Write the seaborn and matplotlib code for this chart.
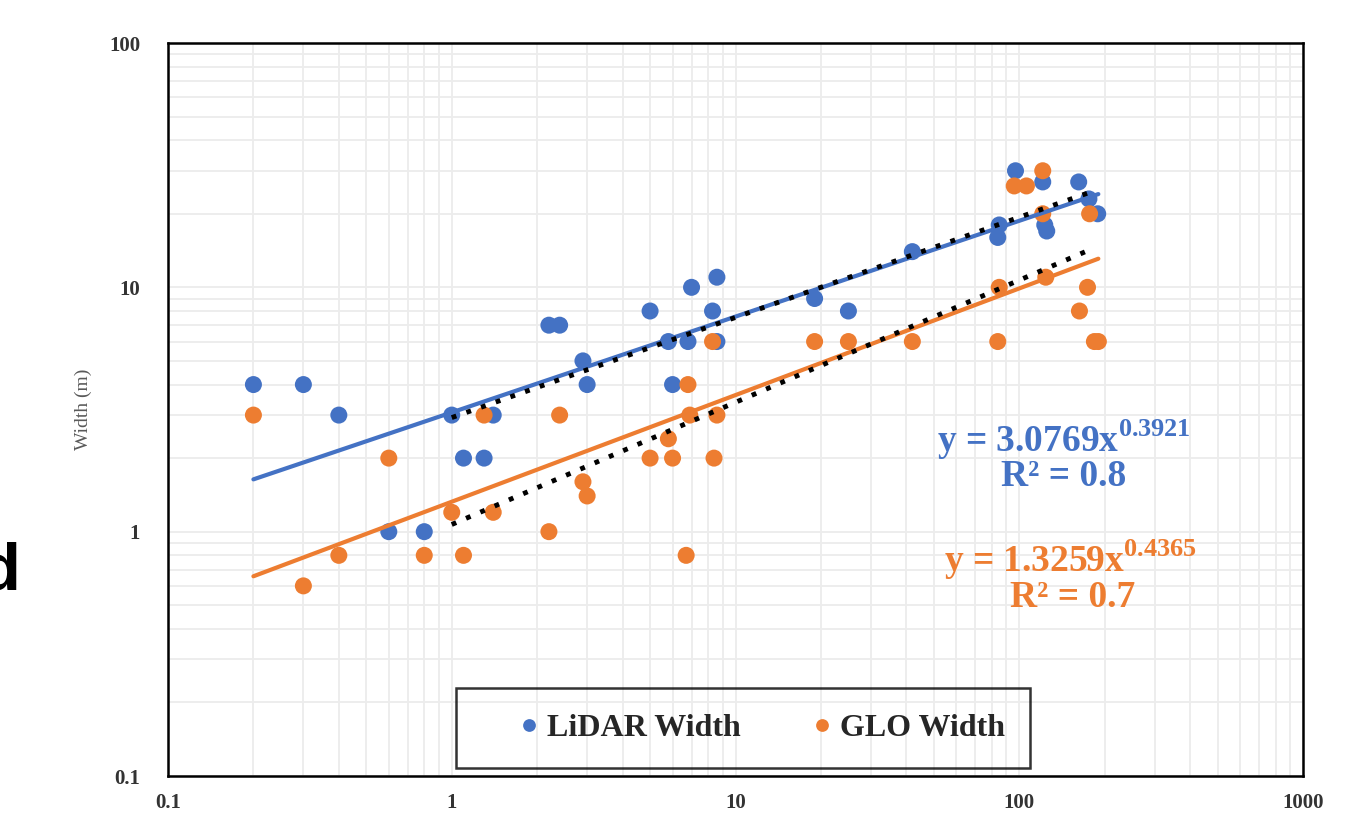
import numpy as np
import pandas as pd
import matplotlib
matplotlib.use("Agg")
import matplotlib.pyplot as plt
import seaborn as sns

# LiDAR widths
lidar_x = [0.2, 0.3, 0.4, 0.6, 0.8, 1, 1.1, 1.3, 1.4, 2.2, 2.4, 2.9, 3, 5, 5.8, 6, 6.8, 7,
           8.3, 8.6, 8.6, 19, 25, 42, 84, 85, 97, 121, 123, 125, 162, 176, 189]
lidar_y = [4, 4, 3, 1, 1, 3, 2, 2, 3, 7, 7, 5, 4, 8, 6, 4, 6, 10,
           8, 11, 6, 9, 8, 14, 16, 18, 30, 27, 18, 17, 27, 23, 20]

# GLO widths
glo_x = [0.2, 0.3, 0.4, 0.6, 0.8, 1, 1.1, 1.3, 1.4, 2.2, 2.4, 2.9, 3, 5, 5.8, 6, 6.8, 6.9,
         6.7, 8.3, 8.6, 8.4, 19, 25, 42, 84, 85, 96, 106, 121, 121, 124, 163, 174, 177, 184, 190]
glo_y = [3, 0.6, 0.8, 2, 0.8, 1.2, 0.8, 3, 1.2, 1, 3, 1.6, 1.4, 2, 2.4, 2, 4, 3,
         0.8, 6, 3, 2, 6, 6, 6, 6, 10, 26, 26, 30, 20, 11, 8, 10, 20, 6, 6]

# power-law trendlines (coefficient, exponent, x range)
lidar_fit = (3.0769, 0.3921, 0.2, 190)
glo_fit = (1.3259, 0.4365, 0.2, 190)
lidar_fit_sub = (2.93, 0.41, 1, 178)
glo_fit_sub = (1.07, 0.50, 1, 184)

blue = "#4472C4"
orange = "#ED7D31"

df = pd.DataFrame({
    "x": lidar_x + glo_x,
    "y": lidar_y + glo_y,
    "series": ["LiDAR Width"] * len(lidar_x) + ["GLO Width"] * len(glo_x),
})


def trend(fit, name):
    a, b, x0, x1 = fit
    xs = np.logspace(np.log10(x0), np.log10(x1), 50)
    return pd.DataFrame({"x": xs, "y": a * xs ** b, "series": name})


sns.set_style("white")
plt.rcParams["font.family"] = ["Liberation Serif", "DejaVu Serif"]
plt.rcParams["mathtext.fontset"] = "custom"
plt.rcParams["mathtext.rm"] = "Liberation Serif:bold"
plt.rcParams["mathtext.bf"] = "Liberation Serif:bold"

fig = plt.figure(figsize=(13.65, 8.18), dpi=100)
ax = fig.add_axes([168 / 1365, 1 - 776 / 818, (1303 - 168) / 1365, (776 - 43) / 818])

sns.scatterplot(data=df, x="x", y="y", hue="series",
                palette={"LiDAR Width": blue, "GLO Width": orange},
                s=150, linewidth=0, ax=ax, zorder=3)

sns.lineplot(data=trend(lidar_fit, "a"), x="x", y="y", color=blue, lw=3,
             ax=ax, legend=False, zorder=4)
sns.lineplot(data=trend(glo_fit, "b"), x="x", y="y", color=orange, lw=3,
             ax=ax, legend=False, zorder=4)
for fit in (lidar_fit_sub, glo_fit_sub):
    sns.lineplot(data=trend(fit, "c"), x="x", y="y", color="black", lw=3.5,
                 ax=ax, legend=False, zorder=5, dashes=False,
                 linestyle=(0, (1, 2.2)))

ax.set_xscale("log")
ax.set_yscale("log")
ax.set_xlim(0.1, 1000)
ax.set_ylim(0.1, 100)
ax.set_xticks([0.1, 1, 10, 100, 1000])
ax.set_xticklabels(["0.1", "1", "10", "100", "1000"])
ax.set_yticks([0.1, 1, 10, 100])
ax.set_yticklabels(["0.1", "1", "10", "100"])
ax.grid(True, which="both", color="#ececec", lw=1.3)
ax.set_axisbelow(True)
ax.tick_params(which="both", length=0, labelsize=15, colors="#333333")
ax.tick_params(axis="y", pad=20)
ax.tick_params(axis="x", pad=12)
for lab in ax.get_xticklabels() + ax.get_yticklabels():
    lab.set_fontweight("bold")
ax.set_xlabel("")
ax.set_ylabel("Width (m)", fontsize=14, color="#595959", labelpad=12)
for sp in ax.spines.values():
    sp.set_visible(True)
    sp.set_color("black")
    sp.set_linewidth(1.8)

ax.text(0.789, 0.458, "y = 3.0769x$^{0.3921}$", transform=ax.transAxes,
        ha="center", va="center", fontsize=27, fontweight="bold", color=blue)
ax.text(0.789, 0.408, "R² = 0.8", transform=ax.transAxes,
        ha="center", va="center", fontsize=27, fontweight="bold", color=blue)
ax.text(0.795, 0.295, "y = 1.3259x$^{0.4365}$", transform=ax.transAxes,
        ha="center", va="center", fontsize=27, fontweight="bold", color=orange)
ax.text(0.797, 0.244, "R² = 0.7", transform=ax.transAxes,
        ha="center", va="center", fontsize=27, fontweight="bold", color=orange)

handles, labels = ax.get_legend_handles_labels()
leg = ax.legend(handles, labels, loc="center",
                bbox_to_anchor=((743 - 168) / 1135, (776 - 728) / 733),
                ncol=2, frameon=True, fancybox=False,
                edgecolor="black", prop={"weight": "bold", "size": 23},
                markerscale=0.75, handletextpad=-0.95, columnspacing=1.05,
                borderpad=0.8, handlelength=3.0, borderaxespad=0)
leg.get_frame().set_facecolor("none")
leg.get_frame().set_linewidth(1.8)
leg.set_zorder(6)

fig.text(20 / 1365, 1 - 590 / 818, "d", ha="right", va="baseline",
         fontsize=48, fontweight="bold", family="Liberation Sans", color="black")

fig.savefig("out.png", dpi=100)
